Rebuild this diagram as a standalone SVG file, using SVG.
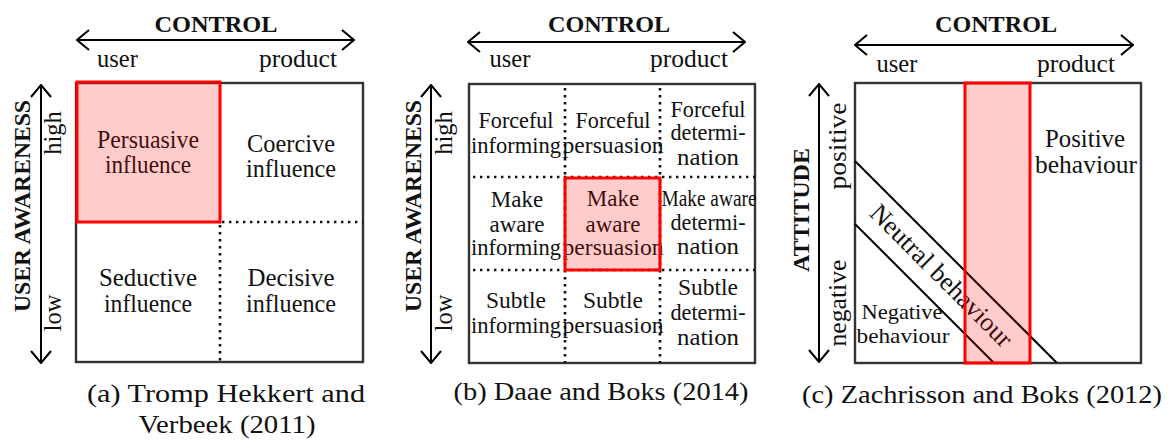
<svg xmlns="http://www.w3.org/2000/svg" width="1169" height="440" viewBox="0 0 1169 440">
<style>
text{font-family:"Liberation Serif","Times New Roman",serif;fill:#111;}
.t{font-size:24.5px;text-anchor:middle;}
.tb{font-size:23px;text-anchor:middle;}
.ax{font-size:24.5px;text-anchor:middle;}
.bold{font-size:23px;font-weight:bold;text-anchor:middle;}
.cap{font-size:26px;text-anchor:middle;}
.box{fill:none;stroke:#333;stroke-width:2.4;}
.dot{stroke:#111;stroke-width:2.6;stroke-dasharray:2.4 4.6;fill:none;}
.hl{fill:#ff0000;fill-opacity:0.2;stroke:#ff0000;stroke-width:3;}
.arr{stroke:#000;stroke-width:2;fill:none;marker-start:url(#chev);marker-end:url(#chev);}
.ln{stroke:#000;stroke-width:2;fill:none;}
</style>
<defs>
<marker id="chev" viewBox="0 0 14 22" refX="13" refY="11" markerUnits="userSpaceOnUse" markerWidth="14" markerHeight="22" orient="auto-start-reverse">
<path d="M1,1 L13,11 L1,21" fill="none" stroke="#000" stroke-width="2"/>
</marker>
</defs>
<rect width="1169" height="440" fill="#fff"/>

<!-- Panel A -->
<g id="panel-a">
<g id="a-axes">
<text class="bold" x="216" y="32" textLength="123" lengthAdjust="spacingAndGlyphs">CONTROL</text>
<text class="ax" x="117.5" y="67">user</text>
<text class="ax" x="298" y="67" textLength="78" lengthAdjust="spacingAndGlyphs">product</text>
<text class="bold" transform="translate(30,206) rotate(-90)" textLength="212" lengthAdjust="spacingAndGlyphs">USER AWARENESS</text>
<text class="ax" transform="translate(61,133) rotate(-90)">high</text>
<text class="ax" transform="translate(61,313) rotate(-90)">low</text>
</g>
<rect class="box" x="76" y="83" width="287" height="279"/>
<g id="a-persuasive"><text class="t" x="148" y="148" textLength="102" lengthAdjust="spacingAndGlyphs">Persuasive</text><text class="t" x="148" y="173" textLength="86" lengthAdjust="spacingAndGlyphs">influence</text></g>
<g id="a-coercive"><text class="t" x="291" y="152" textLength="88" lengthAdjust="spacingAndGlyphs">Coercive</text><text class="t" x="291" y="177" textLength="90" lengthAdjust="spacingAndGlyphs">influence</text></g>
<g id="a-seductive"><text class="t" x="148" y="286" textLength="98" lengthAdjust="spacingAndGlyphs">Seductive</text><text class="t" x="148" y="312" textLength="88" lengthAdjust="spacingAndGlyphs">influence</text></g>
<g id="a-decisive"><text class="t" x="291" y="286" textLength="87" lengthAdjust="spacingAndGlyphs">Decisive</text><text class="t" x="291" y="312" textLength="90" lengthAdjust="spacingAndGlyphs">influence</text></g>
<path class="dot" d="M222,222 H363 M220,225 V362"/>
<rect class="hl" x="77" y="82" width="143" height="140"/>
<g id="a-caption">
<text class="cap" x="226" y="402" textLength="278" lengthAdjust="spacingAndGlyphs">(a) Tromp Hekkert and</text>
<text class="cap" x="227" y="433" textLength="177" lengthAdjust="spacingAndGlyphs">Verbeek (2011)</text>
</g>
</g>

<!-- Panel B -->
<g id="panel-b">
<g id="b-axes">
<text class="bold" x="609" y="32" textLength="122" lengthAdjust="spacingAndGlyphs">CONTROL</text>
<text class="ax" x="510" y="67">user</text>
<text class="ax" x="689" y="67" textLength="78" lengthAdjust="spacingAndGlyphs">product</text>
<text class="bold" transform="translate(421,206) rotate(-90)" textLength="212" lengthAdjust="spacingAndGlyphs">USER AWARENESS</text>
<text class="ax" transform="translate(452,133) rotate(-90)">high</text>
<text class="ax" transform="translate(452,313) rotate(-90)">low</text>
</g>
<rect class="box" x="469" y="84" width="286" height="279"/>
<path class="dot" d="M565,88 V363 M660,88 V363 M473,177 H755 M473,270 H755"/>
<g id="b-forceful-informing"><text class="tb" x="516" y="128" textLength="75" lengthAdjust="spacingAndGlyphs">Forceful</text><text class="tb" x="516" y="153" textLength="90" lengthAdjust="spacingAndGlyphs">informing</text></g>
<g id="b-forceful-persuasion"><text class="tb" x="613" y="128" textLength="75" lengthAdjust="spacingAndGlyphs">Forceful</text><text class="tb" x="613" y="153" textLength="101" lengthAdjust="spacingAndGlyphs">persuasion</text></g>
<g id="b-forceful-determination"><text class="tb" x="708" y="117" textLength="75" lengthAdjust="spacingAndGlyphs">Forceful</text><text class="tb" x="708" y="140" textLength="75" lengthAdjust="spacingAndGlyphs">determi-</text><text class="tb" x="708" y="165" textLength="62" lengthAdjust="spacingAndGlyphs">nation</text></g>
<g id="b-makeaware-informing"><text class="tb" x="517" y="207">Make</text><text class="tb" x="517" y="232">aware</text><text class="tb" x="516" y="255" textLength="90" lengthAdjust="spacingAndGlyphs">informing</text></g>
<g id="b-makeaware-persuasion"><text class="tb" x="613" y="206">Make</text><text class="tb" x="613" y="232">aware</text><text class="tb" x="613" y="255" textLength="101" lengthAdjust="spacingAndGlyphs">persuasion</text></g>
<g id="b-makeaware-determination"><text class="tb" x="709" y="206" textLength="95" lengthAdjust="spacingAndGlyphs">Make aware</text><text class="tb" x="708" y="230" textLength="75" lengthAdjust="spacingAndGlyphs">determi-</text><text class="tb" x="708" y="254" textLength="62" lengthAdjust="spacingAndGlyphs">nation</text></g>
<g id="b-subtle-informing"><text class="tb" x="516" y="308" textLength="60" lengthAdjust="spacingAndGlyphs">Subtle</text><text class="tb" x="516" y="333" textLength="90" lengthAdjust="spacingAndGlyphs">informing</text></g>
<g id="b-subtle-persuasion"><text class="tb" x="613" y="308" textLength="60" lengthAdjust="spacingAndGlyphs">Subtle</text><text class="tb" x="613" y="333" textLength="101" lengthAdjust="spacingAndGlyphs">persuasion</text></g>
<g id="b-subtle-determination"><text class="tb" x="708" y="295" textLength="60" lengthAdjust="spacingAndGlyphs">Subtle</text><text class="tb" x="708" y="320" textLength="75" lengthAdjust="spacingAndGlyphs">determi-</text><text class="tb" x="708" y="345" textLength="62" lengthAdjust="spacingAndGlyphs">nation</text></g>
<rect class="hl" x="565" y="178" width="95" height="92"/>
<g id="b-caption">
<text class="cap" x="601" y="400" textLength="295" lengthAdjust="spacingAndGlyphs">(b) Daae and Boks (2014)</text>
</g>
</g>

<!-- Panel C -->
<g id="panel-c">
<g id="c-axes">
<text class="bold" x="996" y="32" textLength="122" lengthAdjust="spacingAndGlyphs">CONTROL</text>
<text class="ax" x="897" y="72">user</text>
<text class="ax" x="1076" y="72" textLength="78" lengthAdjust="spacingAndGlyphs">product</text>
<text class="bold" transform="translate(809,210) rotate(-90)" textLength="124" lengthAdjust="spacingAndGlyphs">ATTITUDE</text>
<text class="ax" transform="translate(846,146) rotate(-90)" textLength="87" lengthAdjust="spacingAndGlyphs">positive</text>
<text class="ax" transform="translate(846,303) rotate(-90)" textLength="87" lengthAdjust="spacingAndGlyphs">negative</text>
</g>
<rect class="box" x="855" y="83" width="286" height="280"/>
<g id="c-boundaries">
<path class="ln" d="M855,161 L1057,363"/>
<path class="ln" d="M855,224 L994,363"/>
</g>
<g id="c-positive"><text class="t" x="1085" y="147" textLength="80" lengthAdjust="spacingAndGlyphs">Positive</text><text class="t" x="1086" y="173" textLength="102" lengthAdjust="spacingAndGlyphs">behaviour</text></g>
<g id="c-neutral"><text class="t" transform="translate(941,276) rotate(45)" dy="8" style="font-size:26px" textLength="190" lengthAdjust="spacingAndGlyphs">Neutral behaviour</text></g>
<g id="c-negative"><text class="tb" x="902" y="319" style="font-size:22px" textLength="81" lengthAdjust="spacingAndGlyphs">Negative</text><text class="tb" x="903" y="343" style="font-size:22px" textLength="93" lengthAdjust="spacingAndGlyphs">behaviour</text></g>
<rect class="hl" x="965" y="83" width="65" height="280"/>
<g id="c-caption">
<text class="cap" x="982" y="403" textLength="360" lengthAdjust="spacingAndGlyphs">(c) Zachrisson and Boks (2012)</text>
</g>
</g>

<g id="connectors">
<path class="arr" d="M77,40 H354"/>
<path class="arr" d="M41,85 V363"/>
<path class="arr" d="M468,42 H745"/>
<path class="arr" d="M431,85 V363"/>
<path class="arr" d="M855,45 H1133"/>
<path class="arr" d="M819,84 V362"/>
</g>
</svg>
